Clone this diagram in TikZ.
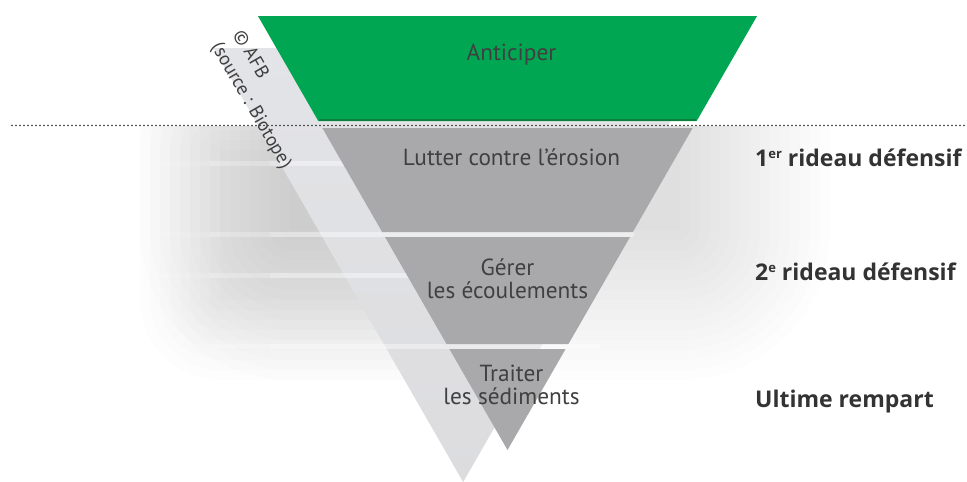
\documentclass[tikz,border=0pt]{standalone}
\usepackage{fontspec}
\setmainfont{PT Sans}
\newfontfamily\sidefont{Open Sans}
\definecolor{funnelgreen}{HTML}{00A651}
\definecolor{darkgreen}{HTML}{0B7F3E}
\definecolor{funnelgray}{HTML}{A9A9AB}
\definecolor{bandtop}{HTML}{E3E4E7}
\definecolor{bandmid}{HTML}{D3D4D8}
\definecolor{bandbot}{HTML}{DCDCDF}
\definecolor{txtgray}{HTML}{404040}
\definecolor{sidegray}{HTML}{333333}
\definecolor{dotcol}{HTML}{2E2E2E}
\newcommand\supr[1]{{\fontsize{13}{13}\selectfont\raisebox{7.5pt}{#1}}}
\begin{document}
\begin{tikzpicture}[x=1pt,y=-1pt,
  lbl/.style={text=txtgray, font=\fontsize{23.3}{27}\selectfont, inner sep=0pt, anchor=base},
  side/.style={text=sidegray, font=\sidefont\bfseries\fontsize{23}{27}\selectfont, inner sep=0pt, anchor=base west},
  credit/.style={text=txtgray, font=\fontsize{19}{25}\selectfont, inner sep=0pt, anchor=north west, rotate=-60, align=left}]
\useasboundingbox (0,0) rectangle (967,482);
\fill[white] (0,0) rectangle (967,482);
% soft shadow below the dotted line
\begin{scope}
  \clip (0,126) rectangle (967,482);
  \foreach \r in {0,10,...,150}{
    \fill[black,opacity=0.009,rounded corners=\r pt] (290-\r,60-\r) rectangle (680+\r,230+\r);}
  \foreach \r in {0,10,...,80}{
    \fill[black,opacity=0.006,rounded corners=\r pt] (220-\r,150-\r) rectangle (420+\r,300+\r);}
\end{scope}
% cast shadow band
\shade[top color=bandtop, middle color=bandmid, bottom color=bandbot] (213.6,48) -- (712.7,48) -- (463.15,482) -- cycle;
% light stripes, fading towards the left
\foreach \ya/\yb/\xe in {161/165.5/520, 273/277.5/520, 232/237/634, 344/349/600}{
  \fill[white,opacity=.12] (150,\ya) rectangle (210,\yb);
  \fill[white,opacity=.25] (210,\ya) rectangle (270,\yb);
  \fill[white,opacity=.4] (270,\ya) rectangle (\xe,\yb);
}
% funnel
\fill[funnelgreen] (257.95,16) -- (757.05,16) -- (696.7,121) -- (318.3,121) -- cycle;
\draw[darkgreen, line width=1.5pt] (318.9,120.2) -- (696.1,120.2);
\fill[funnelgray] (322.35,128) -- (692.65,128) -- (632.85,232) -- (382.15,232) -- cycle;
\fill[funnelgray] (385,237) -- (630,237) -- (568.45,344) -- (446.55,344) -- cycle;
\fill[funnelgray] (449.4,349) -- (565.6,349) -- (507.5,450) -- cycle;
% dotted line
\draw[dotcol, line width=1.8pt, line cap=round, dash pattern=on 0pt off 4pt] (12,125.5) -- (967,125.5);
% labels
\node[lbl] (ant) at (511.5,60) {Anticiper};
\node[lbl] (lut) at (511.5,165) {Lutter contre l’érosion};
\node[lbl] (ger) at (507.5,275) {Gérer};
\node[lbl] (eco) at (507.5,298.3) {les écoulements};
\node[lbl] (tra) at (511.5,381.7) {Traiter};
\node[lbl] (sed) at (511.5,404.5) {les sédiments};
\node[side] (r1) at (755,166) {1\supr{er} rideau défensif};
\node[side] (r2) at (755,280) {2\supr{e} rideau défensif};
\node[side] (r3) at (755,407) {Ultime rempart};
\node[credit] (cr) at (244.7,27.3) {© AFB\\(source : Biotope)};
\end{tikzpicture}
\end{document}
